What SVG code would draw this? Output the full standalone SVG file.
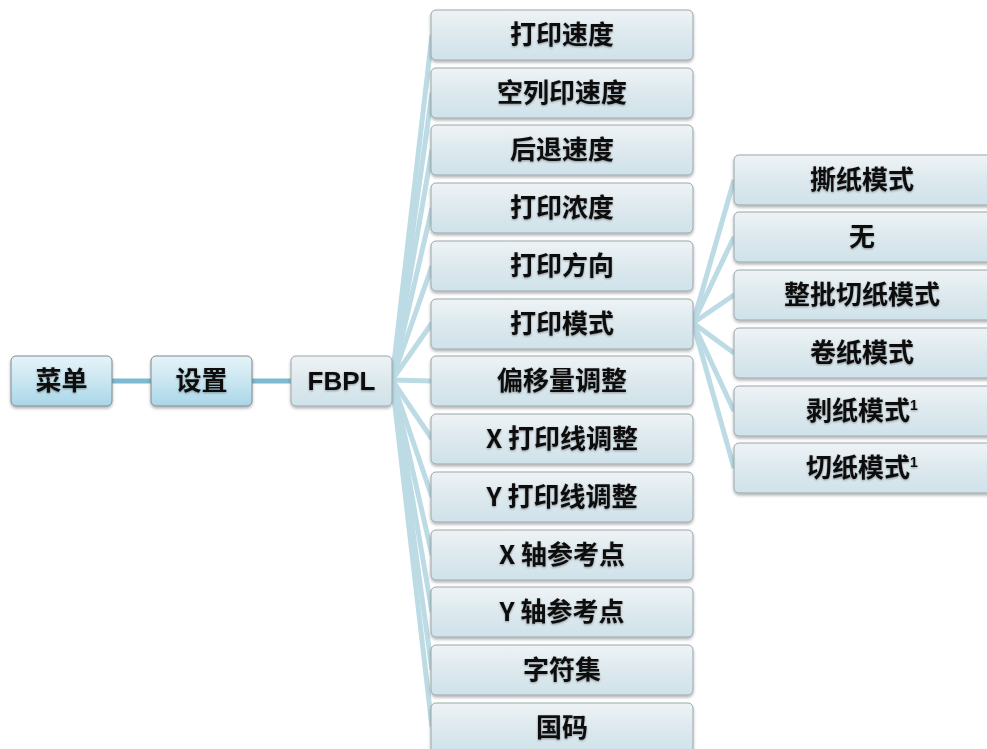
<svg xmlns="http://www.w3.org/2000/svg" width="987" height="749" viewBox="0 0 987 749">
<defs>
<linearGradient id="gMain" x1="0" y1="0" x2="0" y2="1">
<stop offset="0" stop-color="#e6f3f8"/>
<stop offset="0.5" stop-color="#c9e6f1"/>
<stop offset="1" stop-color="#a9d6e8"/>
</linearGradient>
<linearGradient id="gBox" x1="0" y1="0" x2="0" y2="1">
<stop offset="0" stop-color="#eef3f5"/>
<stop offset="0.5" stop-color="#dde9ee"/>
<stop offset="1" stop-color="#cfe2ea"/>
</linearGradient>
<filter id="sh" x="-10%" y="-20%" width="120%" height="150%">
<feDropShadow dx="0" dy="2" stdDeviation="1.5" flood-color="#000" flood-opacity="0.3"/>
</filter>
<filter id="ts" x="-10%" y="-20%" width="120%" height="150%">
<feDropShadow dx="0" dy="1" stdDeviation="1" flood-color="#000" flood-opacity="0.35"/>
</filter>
</defs>
<style>
.m{fill:url(#gMain);stroke:#7c8a90;stroke-width:1;filter:url(#sh)}
.b{fill:url(#gBox);stroke:#9aa6ab;stroke-width:1;filter:url(#sh)}
.t{font-family:"Noto Sans CJK SC","Liberation Sans",sans-serif;font-weight:bold;font-size:26px;fill:#111;text-anchor:middle;filter:url(#ts)}
.f{font-family:"Liberation Sans","Noto Sans CJK SC",sans-serif}
.sup{font-size:14px;font-family:"Liberation Sans",sans-serif}
.c1{stroke:#7db9d0;stroke-width:5;fill:none}
.c2{stroke:#bcdbe5;stroke-width:5;fill:none}
</style>
<rect width="987" height="749" fill="#ffffff"/>
<g id="connectors">
<line class="c1" x1="112" y1="381" x2="151" y2="381"/>
<line class="c1" x1="252" y1="381" x2="291" y2="381" stroke="#9ccbdb"/>
<g class="c2">
<line x1="392" y1="380" x2="432" y2="35"/>
<line x1="392" y1="380" x2="432" y2="93"/>
<line x1="392" y1="380" x2="432" y2="150"/>
<line x1="392" y1="380" x2="432" y2="208"/>
<line x1="392" y1="380" x2="432" y2="266"/>
<line x1="392" y1="380" x2="432" y2="323"/>
<line x1="392" y1="380" x2="432" y2="381"/>
<line x1="392" y1="380" x2="432" y2="439"/>
<line x1="392" y1="380" x2="432" y2="497"/>
<line x1="392" y1="380" x2="432" y2="555"/>
<line x1="392" y1="380" x2="432" y2="612"/>
<line x1="392" y1="380" x2="432" y2="670"/>
<line x1="392" y1="380" x2="432" y2="727"/>
<line x1="693" y1="323" x2="734" y2="180"/>
<line x1="693" y1="323" x2="734" y2="237"/>
<line x1="693" y1="323" x2="734" y2="295"/>
<line x1="693" y1="323" x2="734" y2="353"/>
<line x1="693" y1="323" x2="734" y2="411"/>
<line x1="693" y1="323" x2="734" y2="468"/>
</g>
</g>
<g id="n-caidan"><rect class="m" x="11" y="356" width="101" height="50" rx="5"/><text class="t" x="61.5" y="390">菜单</text></g>
<g id="n-shezhi"><rect class="m" x="151" y="356" width="101" height="50" rx="5"/><text class="t" x="201.5" y="390">设置</text></g>
<g id="n-fbpl"><rect class="b" x="291" y="356" width="101" height="50" rx="5"/><text class="t f" x="341.5" y="390">FBPL</text></g>

<g id="n-1"><rect class="b" x="431" y="10" width="262" height="50" rx="5"/><text class="t" x="562" y="44">打印速度</text></g>
<g id="n-2"><rect class="b" x="431" y="68" width="262" height="50" rx="5"/><text class="t" x="562" y="102">空列印速度</text></g>
<g id="n-3"><rect class="b" x="431" y="125" width="262" height="50" rx="5"/><text class="t" x="562" y="159">后退速度</text></g>
<g id="n-4"><rect class="b" x="431" y="183" width="262" height="50" rx="5"/><text class="t" x="562" y="217">打印浓度</text></g>
<g id="n-5"><rect class="b" x="431" y="241" width="262" height="50" rx="5"/><text class="t" x="562" y="275">打印方向</text></g>
<g id="n-6"><rect class="b" x="431" y="299" width="262" height="50" rx="5"/><text class="t" x="562" y="333">打印模式</text></g>
<g id="n-7"><rect class="b" x="431" y="356" width="262" height="50" rx="5"/><text class="t" x="562" y="390">偏移量调整</text></g>
<g id="n-8"><rect class="b" x="431" y="414" width="262" height="50" rx="5"/><text class="t" x="562" y="448">X 打印线调整</text></g>
<g id="n-9"><rect class="b" x="431" y="472" width="262" height="50" rx="5"/><text class="t" x="562" y="506">Y 打印线调整</text></g>
<g id="n-10"><rect class="b" x="431" y="530" width="262" height="50" rx="5"/><text class="t" x="562" y="564">X 轴参考点</text></g>
<g id="n-11"><rect class="b" x="431" y="587" width="262" height="50" rx="5"/><text class="t" x="562" y="621">Y 轴参考点</text></g>
<g id="n-12"><rect class="b" x="431" y="645" width="262" height="50" rx="5"/><text class="t" x="562" y="679">字符集</text></g>
<g id="n-13"><rect class="b" x="431" y="703" width="262" height="50" rx="5"/><text class="t" x="562" y="737">国码</text></g>

<g id="r-1"><rect class="b" x="734" y="155" width="262" height="50" rx="5"/><text class="t" x="862" y="189">撕纸模式</text></g>
<g id="r-2"><rect class="b" x="734" y="212" width="262" height="50" rx="5"/><text class="t" x="862" y="246">无</text></g>
<g id="r-3"><rect class="b" x="734" y="270" width="262" height="50" rx="5"/><text class="t" x="862" y="304">整批切纸模式</text></g>
<g id="r-4"><rect class="b" x="734" y="328" width="262" height="50" rx="5"/><text class="t" x="862" y="362">卷纸模式</text></g>
<g id="r-5"><rect class="b" x="734" y="386" width="262" height="50" rx="5"/><text class="t" x="862" y="420">剥纸模式<tspan class="sup" dy="-10">1</tspan></text></g>
<g id="r-6"><rect class="b" x="734" y="443" width="262" height="50" rx="5"/><text class="t" x="862" y="477">切纸模式<tspan class="sup" dy="-10">1</tspan></text></g>
</svg>
